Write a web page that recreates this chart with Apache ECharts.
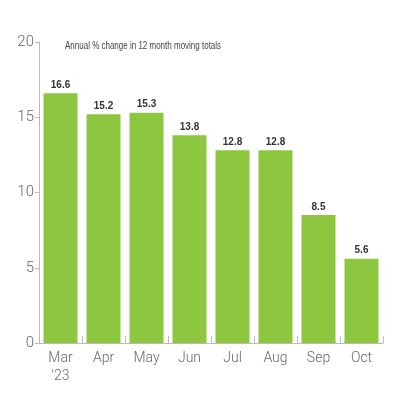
<!DOCTYPE html>
<html lang="en">
<head>
    <meta charset="utf-8"/>
    <title>Annual % change</title>
    <script src="https://cdn.jsdelivr.net/npm/echarts@6/dist/echarts.min.js"></script>
    <style>
        html, body { margin: 0; padding: 0; background: #fff; }
        #chart { width: 400px; height: 400px; }
    </style>
</head>
<body>
<div id="chart"></div>
<script>
    const months = ['Mar\n\'23', 'Apr', 'May', 'Jun', 'Jul', 'Aug', 'Sep', 'Oct'];
    const changes = [16.6, 15.2, 15.3, 13.8, 12.8, 12.8, 8.5, 5.6];
    const yTicks = [0, 5, 10, 15, 20];
    const subtitle = 'Annual % change in 12 month moving totals';

    const chart = echarts.init(document.getElementById('chart'));
    const option = {
        animation: false,
        graphic: [{
            type: 'text',
            x: 65, y: 41, scaleX: 0.8,
            style: { text: subtitle, font: '10px Liberation Sans', fill: '#444' }
        }],
        grid: { left: 39, right: 17, top: 42, bottom: 57 },
        xAxis: {
            type: 'category',
            data: months,
            axisLine: { lineStyle: { color: '#bbb', width: 1 } },
            axisTick: { show: true, inside: true, length: 7, lineStyle: { color: '#bbb' } },
            axisLabel: { color: '#666', fontSize: 14, fontFamily: 'Roboto', fontWeight: 300, margin: 6, lineHeight: 18 }
        },
        yAxis: {
            type: 'value',
            min: yTicks[0], max: yTicks[yTicks.length - 1], interval: 5,
            axisLine: { show: true, lineStyle: { color: '#bbb', width: 1 } },
            axisTick: { show: true, length: 4, lineStyle: { color: '#bbb' } },
            splitLine: { show: false },
            axisLabel: { color: '#666', fontSize: 15, fontFamily: 'Roboto', fontWeight: 300, margin: 5 }
        },
        series: [{
            type: 'bar',
            data: changes,
            barCategoryGap: '21%',
            itemStyle: { color: '#8dc63f' },
            label: {
                show: true, position: 'top', distance: 3,
                fontFamily: 'Liberation Sans',
                fontWeight: 'bold', fontSize: 10, color: '#333',
                formatter: p => p.value.toFixed(1)
            }
        }]
    };
    chart.setOption(option);
</script>
</body>
</html>
